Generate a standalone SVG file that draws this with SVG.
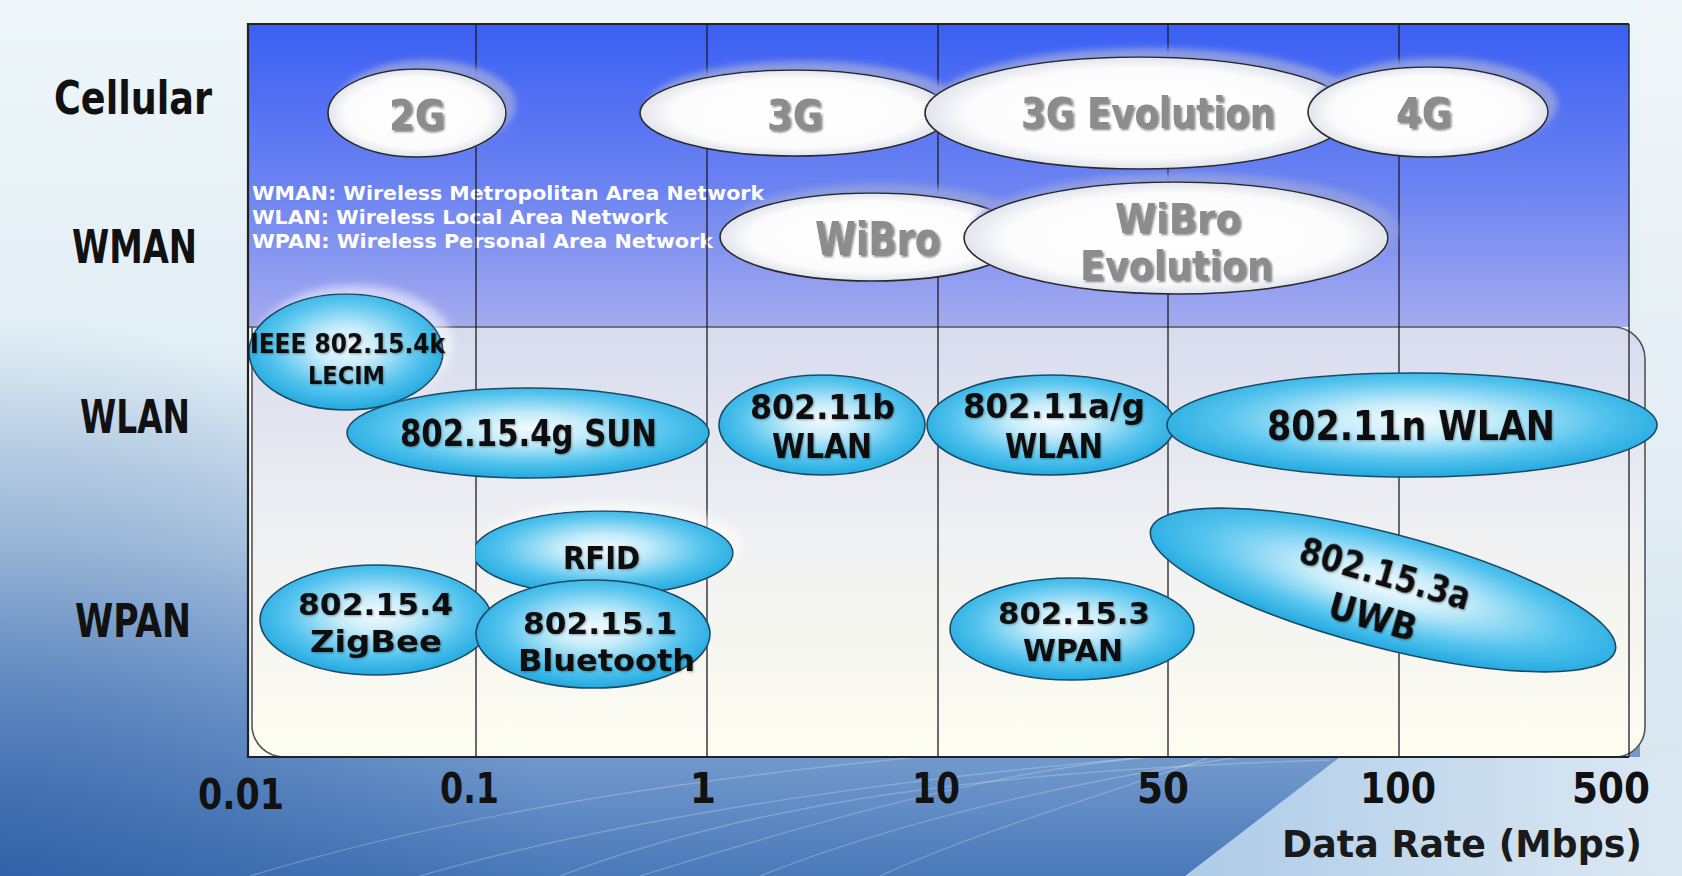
<svg xmlns="http://www.w3.org/2000/svg" width="1682" height="876" viewBox="0 0 1682 876">
<defs>
<linearGradient id="bg" x1="0" y1="0" x2="0" y2="876" gradientUnits="userSpaceOnUse">
<stop offset="0" stop-color="#eef6f9"/>
<stop offset="0.4" stop-color="#e2eef5"/>
<stop offset="0.63" stop-color="#bcd2e8"/>
<stop offset="0.8" stop-color="#85a9d6"/>
<stop offset="1" stop-color="#4a79b9"/>
</linearGradient>
<radialGradient id="bl" cx="0" cy="876" r="560" gradientUnits="userSpaceOnUse">
<stop offset="0" stop-color="#22539c" stop-opacity="0.6"/>
<stop offset="1" stop-color="#22539c" stop-opacity="0"/>
</radialGradient>
<linearGradient id="br" x1="1185" y1="0" x2="1682" y2="0" gradientUnits="userSpaceOnUse">
<stop offset="0" stop-color="#aecbe8"/>
<stop offset="1" stop-color="#dce9f3"/>
</linearGradient>
<linearGradient id="rc" x1="0" y1="0" x2="0" y2="1">
<stop offset="0" stop-color="#f1f6f9"/>
<stop offset="1" stop-color="#d9e7f1"/>
</linearGradient>
<linearGradient id="up" x1="0" y1="0" x2="0" y2="1">
<stop offset="0" stop-color="#3a5ff4"/>
<stop offset="0.55" stop-color="#6d84f1"/>
<stop offset="1" stop-color="#a4abef"/>
</linearGradient>
<linearGradient id="lo" x1="0" y1="0" x2="0" y2="1">
<stop offset="0" stop-color="#d8dbee"/>
<stop offset="0.45" stop-color="#eeeff2"/>
<stop offset="1" stop-color="#fefdf1"/>
</linearGradient>
<radialGradient id="wh" cx="0.5" cy="0.5" r="0.5">
<stop offset="0" stop-color="#ffffff"/>
<stop offset="0.8" stop-color="#fcfcfd"/>
<stop offset="1" stop-color="#e2e4ec"/>
</radialGradient>
<radialGradient id="cy" cx="0.5" cy="0.45" r="0.55">
<stop offset="0" stop-color="#f3fbfe"/>
<stop offset="0.3" stop-color="#c6ecfa"/>
<stop offset="0.7" stop-color="#55c4ee"/>
<stop offset="1" stop-color="#22a9e0"/>
</radialGradient>
<filter id="sw" x="-20%" y="-40%" width="140%" height="180%">
<feDropShadow dx="9" dy="-8" stdDeviation="3" flood-color="#8f9de2" flood-opacity="0.95"/>
</filter>
<filter id="gl" x="-30%" y="-40%" width="160%" height="180%">
<feDropShadow dx="9" dy="-8" stdDeviation="4" flood-color="#ffffff" flood-opacity="0.55"/>
</filter>
<filter id="tg" x="-10%" y="-20%" width="120%" height="150%">
<feDropShadow dx="2" dy="2" stdDeviation="1" flood-color="#333" flood-opacity="0.6"/>
</filter>
<filter id="tk" x="-10%" y="-20%" width="120%" height="150%">
<feDropShadow dx="1" dy="1" stdDeviation="0.8" flood-color="#000" flood-opacity="0.35"/>
</filter>
<clipPath id="rfidClip"><rect x="476" y="490" width="300" height="130"/></clipPath>
<style>
.f{font-family:"Liberation Sans Narrow","DejaVu Sans Condensed","Liberation Sans",Arial,sans-serif;font-weight:bold}
.row{font-size:46px;fill:#111}
.ax{font-size:42px;fill:#111}
.gt{font-size:42px;fill:#8c8c8c}
.bt{font-size:31px;fill:#0d0d0d}
.lg{font-size:19.5px;fill:#ffffff}
.we{fill:url(#wh);stroke:#2a2a2a;stroke-width:1.6}
.ce{fill:url(#cy);stroke:#1b4a66;stroke-width:1.6}
.gl{stroke:#1c1c24;stroke-width:1.3}
.fr{stroke:#222;stroke-width:2.2}
.sw{fill:none;stroke:#ffffff;stroke-opacity:0.22;stroke-width:1.4}
</style>
</defs>

<g id="background">
<rect x="0" y="0" width="1682" height="876" fill="url(#bg)"/>
<rect x="0" y="300" width="1682" height="576" fill="url(#bl)"/>
<path class="sw" d="M250 876 C500 800 800 760 1250 730"/>
<path class="sw" d="M420 876 C650 810 950 770 1300 745"/>
<path class="sw" d="M560 876 C760 800 1000 770 1330 760"/>
<path class="sw" d="M640 876 C820 820 1000 770 1150 757"/>
<path class="sw" d="M760 876 C900 820 1080 780 1240 757"/>
<path class="sw" d="M880 876 C980 830 1120 790 1210 757"/>
<polygon points="1340,757 1682,757 1682,876 1185,876" fill="url(#br)"/>
<rect x="1640" y="0" width="42" height="757" fill="url(#rc)"/>
</g>

<g id="plot">
<rect x="248" y="24" width="1381" height="303" fill="url(#up)"/>
<rect x="248" y="327" width="1381" height="430" fill="#fbfbf6"/>
<path d="M248 327 H1613 A32 32 0 0 1 1645 359 V727 A30 30 0 0 1 1615 757 H284 A32 32 0 0 1 252 725 V327" fill="url(#lo)" stroke="#555" stroke-width="1.6"/>
</g>

<g id="legend" class="f lg">
<text x="252" y="200" textLength="512" lengthAdjust="spacingAndGlyphs">WMAN: Wireless Metropolitan Area Network</text>
<text x="252" y="224" textLength="416" lengthAdjust="spacingAndGlyphs">WLAN: Wireless Local Area Network</text>
<text x="252" y="248" textLength="461" lengthAdjust="spacingAndGlyphs">WPAN: Wireless Personal Area Network</text>
</g>

<g id="grid">
<line class="gl" x1="476" y1="24" x2="476" y2="757"/>
<line class="gl" x1="707" y1="24" x2="707" y2="757"/>
<line class="gl" x1="938" y1="24" x2="938" y2="757"/>
<line class="gl" x1="1168" y1="24" x2="1168" y2="757"/>
<line class="gl" x1="1399" y1="24" x2="1399" y2="757"/>
<line class="gl" x1="1629" y1="24" x2="1629" y2="757"/>
<line class="fr" x1="248" y1="24" x2="1629" y2="24"/>
<line class="fr" x1="248" y1="757" x2="1629" y2="757"/>
</g>

<g id="node-2G">
<ellipse class="we" cx="417" cy="113" rx="89" ry="44" filter="url(#sw)"/>
<text class="f gt" x="389" y="130" textLength="56" lengthAdjust="spacingAndGlyphs" filter="url(#tg)">2G</text>
</g>
<g id="node-3G">
<ellipse class="we" cx="795" cy="113" rx="155" ry="43" filter="url(#sw)"/>
<text class="f gt" x="767" y="130" textLength="56" lengthAdjust="spacingAndGlyphs" filter="url(#tg)">3G</text>
</g>
<g id="node-3G-evolution">
<ellipse class="we" cx="1139" cy="113" rx="214" ry="56" filter="url(#sw)"/>
<text class="f gt" x="1021" y="128" textLength="254" lengthAdjust="spacingAndGlyphs" filter="url(#tg)">3G Evolution</text>
</g>
<g id="node-4G">
<ellipse class="we" cx="1428" cy="112" rx="120" ry="45" filter="url(#sw)"/>
<text class="f gt" x="1396" y="128" textLength="56" lengthAdjust="spacingAndGlyphs" filter="url(#tg)">4G</text>
</g>
<g id="node-wibro">
<ellipse class="we" cx="872" cy="237" rx="152" ry="44" filter="url(#sw)"/>
<text class="f gt" x="815" y="255" textLength="125" lengthAdjust="spacingAndGlyphs" filter="url(#tg)" style="font-size:46px">WiBro</text>
</g>
<g id="node-wibro-evolution">
<ellipse class="we" cx="1176" cy="238" rx="212" ry="56" filter="url(#sw)"/>
<text class="f gt" x="1115" y="233" textLength="126" lengthAdjust="spacingAndGlyphs" filter="url(#tg)" style="font-size:40px">WiBro</text>
<text class="f gt" x="1080" y="280" textLength="193" lengthAdjust="spacingAndGlyphs" filter="url(#tg)" style="font-size:40px">Evolution</text>
</g>

<g id="node-802-15-4g">
<ellipse class="ce" cx="528" cy="433" rx="181" ry="45"/>
<text class="f bt" x="400" y="446" textLength="257" lengthAdjust="spacingAndGlyphs" filter="url(#tk)" style="font-size:38px">802.15.4g SUN</text>
</g>
<g id="node-802-15-4k">
<ellipse class="ce" cx="346" cy="352" rx="97" ry="58" filter="url(#gl)"/>
<text class="f bt" x="250" y="353" textLength="195" lengthAdjust="spacingAndGlyphs" filter="url(#tk)" style="font-size:26px">IEEE 802.15.4k</text>
<text class="f bt" x="308" y="384" textLength="77" lengthAdjust="spacingAndGlyphs" filter="url(#tk)" style="font-size:25px">LECIM</text>
</g>
<g id="node-802-11b">
<ellipse class="ce" cx="822" cy="425" rx="103" ry="50"/>
<text class="f bt" x="750" y="419" textLength="145" lengthAdjust="spacingAndGlyphs" filter="url(#tk)" style="font-size:33px">802.11b</text>
<text class="f bt" x="772" y="458" textLength="100" lengthAdjust="spacingAndGlyphs" filter="url(#tk)" style="font-size:33px">WLAN</text>
</g>
<g id="node-802-11ag">
<ellipse class="ce" cx="1051" cy="425" rx="124" ry="50"/>
<text class="f bt" x="963" y="418" textLength="182" lengthAdjust="spacingAndGlyphs" filter="url(#tk)" style="font-size:33px">802.11a/g</text>
<text class="f bt" x="1005" y="458" textLength="98" lengthAdjust="spacingAndGlyphs" filter="url(#tk)" style="font-size:33px">WLAN</text>
</g>
<g id="node-802-11n">
<ellipse class="ce" cx="1412" cy="425" rx="245" ry="52"/>
<text class="f bt" x="1267" y="440" textLength="288" lengthAdjust="spacingAndGlyphs" filter="url(#tk)" style="font-size:40px">802.11n WLAN</text>
</g>
<g id="node-rfid">
<ellipse class="ce" cx="603" cy="553" rx="130" ry="42" clip-path="url(#rfidClip)" filter="url(#gl)"/>
<text class="f bt" x="563" y="569" textLength="77" lengthAdjust="spacingAndGlyphs" filter="url(#tk)" style="font-size:32px">RFID</text>
</g>
<g id="node-zigbee">
<ellipse class="ce" cx="376" cy="620" rx="116" ry="55"/>
<text class="f bt" x="298" y="615" textLength="155" lengthAdjust="spacingAndGlyphs" filter="url(#tk)">802.15.4</text>
<text class="f bt" x="310" y="652" textLength="132" lengthAdjust="spacingAndGlyphs" filter="url(#tk)">ZigBee</text>
</g>
<g id="node-bluetooth">
<ellipse class="ce" cx="593" cy="634" rx="117" ry="54"/>
<text class="f bt" x="523" y="634" textLength="154" lengthAdjust="spacingAndGlyphs" filter="url(#tk)">802.15.1</text>
<text class="f bt" x="518" y="671" textLength="177" lengthAdjust="spacingAndGlyphs" filter="url(#tk)">Bluetooth</text>
</g>
<g id="node-802-15-3">
<ellipse class="ce" cx="1072" cy="629" rx="122" ry="51"/>
<text class="f bt" x="998" y="624" textLength="152" lengthAdjust="spacingAndGlyphs" filter="url(#tk)">802.15.3</text>
<text class="f bt" x="1023" y="661" textLength="100" lengthAdjust="spacingAndGlyphs" filter="url(#tk)">WPAN</text>
</g>
<g id="node-uwb">
<ellipse class="ce" cx="0" cy="0" rx="240" ry="57" transform="translate(1383,590) rotate(14.6)"/>
<g transform="translate(1381,592) rotate(16)">
<text class="f bt" x="-89" y="-6" textLength="176" lengthAdjust="spacingAndGlyphs" filter="url(#tk)" style="font-size:37px">802.15.3a</text>
<text class="f bt" x="-46" y="39" textLength="90" lengthAdjust="spacingAndGlyphs" filter="url(#tk)" style="font-size:37px">UWB</text>
</g>
</g>

<g id="frame-left">
<line class="fr" x1="248" y1="23" x2="248" y2="758"/>
</g>

<g id="row-labels" class="f row">
<text x="54" y="114" textLength="158" lengthAdjust="spacingAndGlyphs">Cellular</text>
<text x="72" y="263" textLength="125" lengthAdjust="spacingAndGlyphs">WMAN</text>
<text x="80" y="433" textLength="110" lengthAdjust="spacingAndGlyphs">WLAN</text>
<text x="75" y="637" textLength="116" lengthAdjust="spacingAndGlyphs">WPAN</text>
</g>

<g id="axis-labels" class="f ax">
<text x="198" y="809" textLength="86" lengthAdjust="spacingAndGlyphs">0.01</text>
<text x="440" y="803" textLength="59" lengthAdjust="spacingAndGlyphs">0.1</text>
<text x="703" y="803" text-anchor="middle">1</text>
<text x="912" y="803" textLength="48" lengthAdjust="spacingAndGlyphs">10</text>
<text x="1137" y="803" textLength="52" lengthAdjust="spacingAndGlyphs">50</text>
<text x="1360" y="803" textLength="76" lengthAdjust="spacingAndGlyphs">100</text>
<text x="1572" y="803" textLength="78" lengthAdjust="spacingAndGlyphs">500</text>
<text x="1282" y="857" textLength="360" lengthAdjust="spacingAndGlyphs" style="font-size:37px;fill:#1a1a1a">Data Rate (Mbps)</text>
</g>
</svg>
